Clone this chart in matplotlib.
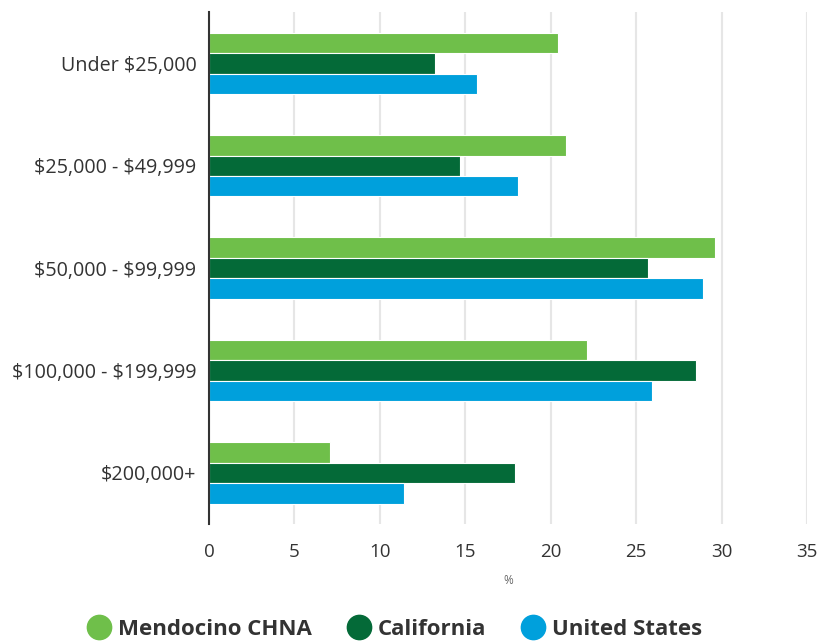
import matplotlib
matplotlib.use("Agg")
import matplotlib.pyplot as plt
import numpy as np
from matplotlib.lines import Line2D

categories = ["Under \\$25,000", "\\$25,000 - \\$49,999", "\\$50,000 - \\$99,999",
              "\\$100,000 - \\$199,999", "\\$200,000+"]
series_names = ["Mendocino CHNA", "California", "United States"]
mendocino = [20.4, 20.9, 29.6, 22.1, 7.1]
california = [13.2, 14.7, 25.7, 28.5, 17.9]
united_states = [15.7, 18.1, 28.9, 25.9, 11.4]
x_ticks = [0, 5, 10, 15, 20, 25, 30, 35]
x_label = "%"

colors = ["#6FBF4A", "#046A38", "#00A0DC"]

plt.rcParams['font.family'] = ['Open Sans', 'DejaVu Sans']

fig = plt.figure(figsize=(8.17, 6.43), dpi=100)
ax = fig.add_axes([0.2558, 0.185, 0.7320, 0.796])

y = np.arange(len(categories))
h = 0.2
for i, (vals, c) in enumerate(zip([mendocino, california, united_states], colors)):
    ax.barh(y + (i - 1) * h, vals, height=h, color=c, edgecolor="white",
            linewidth=0.8, zorder=3)

ax.set_ylim(len(categories) - 0.5, -0.5)
ax.set_xlim(0, 35)
ax.set_xticks(x_ticks)
ax.set_xticklabels([str(t) for t in x_ticks])
ax.set_yticks(y)
ax.set_yticklabels(categories)
ax.tick_params(axis="both", length=0, labelsize=13.5, colors="#333333")
ax.tick_params(axis="y", labelsize=14.2, pad=9)
ax.tick_params(axis="x", pad=14)
ax.grid(axis="x", color="#e6e6e6", linewidth=1.5, zorder=0)
for s in ["top", "right", "bottom"]:
    ax.spines[s].set_visible(False)
ax.spines["left"].set_color("#333333")
ax.spines["left"].set_linewidth(1.5)
ax.spines["left"].set_zorder(4)
ax.set_xlabel(x_label, fontsize=8.5, color="#666666", labelpad=9)

handles = [Line2D([0], [0], marker="o", linestyle="none", markersize=17.5,
                  markerfacecolor=c, markeredgecolor=c) for c in colors]
leg = fig.legend(handles, series_names, loc="lower center",
                 bbox_to_anchor=(0.482, -0.026), ncol=3, frameon=False,
                 prop={"weight": "bold", "size": 16}, handletextpad=0.25,
                 columnspacing=1.5, handlelength=1.2)
for t in leg.get_texts():
    t.set_color("#333333")

fig.savefig("out.png", dpi=100)
